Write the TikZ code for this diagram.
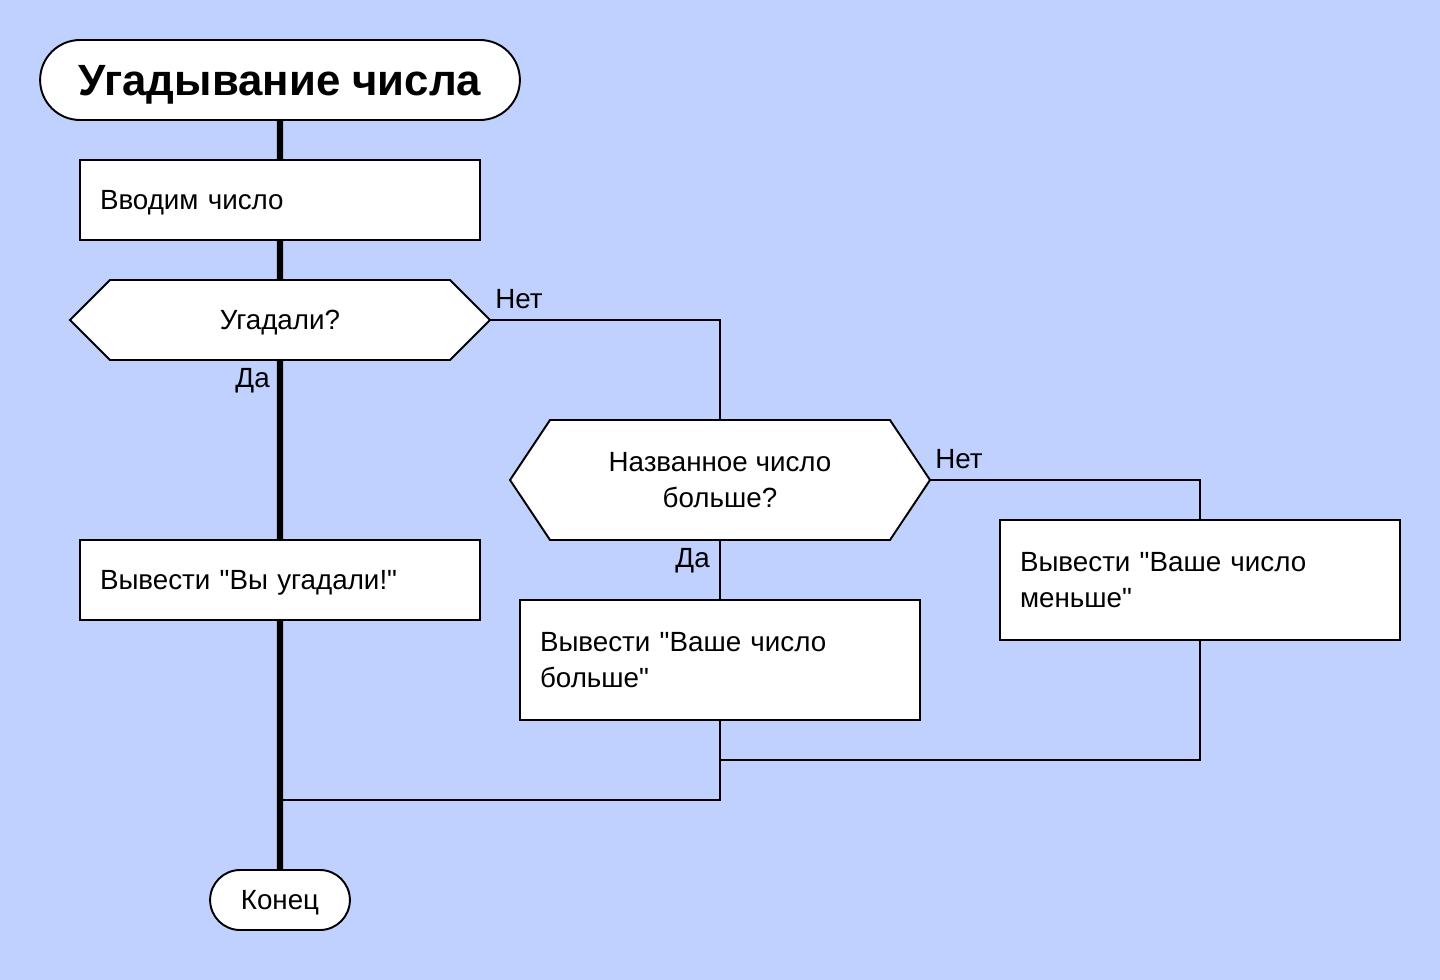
\documentclass[tikz,border=0pt]{standalone}
\usepackage{fontspec}
\setmainfont{Liberation Sans}
\usetikzlibrary{positioning,calc,shapes.misc,shapes.symbols}
\definecolor{bgblue}{HTML}{C0D0FF}

\begin{document}
\begin{tikzpicture}[node distance=0.8cm, line width=1.1pt,
  every node/.style={outer sep=0pt},
  txt/.style={font=\fontsize{15.8}{20.4}\selectfont},
  oneline/.style={text depth=0pt},
  term/.style={draw, fill=white, rounded rectangle, txt, oneline},
  proc/.style={draw, fill=white, rectangle, txt, minimum width=8cm, text width=7.2cm, inner xsep=0.4cm, align=left},
  cond/.style={draw, fill=white, signal, signal to=east and west, txt, align=center, minimum width=8.4cm},
  spine/.style={line width=3.6pt},
  yesno/.style={txt, inner sep=3pt}]

  \fill[bgblue] (0,0) rectangle (28.8,-19.6);
  \useasboundingbox (0,0) rectangle (28.8,-19.6);

  \node[term, font=\fontsize{24.9}{28}\selectfont\bfseries, minimum width=9.83cm, minimum height=1.6cm] (title) at (5.6,-1.6) {Угадывание числа};
  \node[proc, oneline, minimum height=1.6cm, below=of title]              (input)  {Вводим число};
  \node[cond, oneline, minimum height=1.6cm, signal pointer angle=90, below=of input] (guess)  {Угадали?};
  \node[proc, oneline, minimum height=1.6cm, below=3.6cm of guess]        (win)    {Вывести \textquotedbl Вы угадали!\textquotedbl};
  \node[term, minimum width=3.03cm, minimum height=1.2cm, below=5cm of win]  (end)    {Конец};

  \node[cond, minimum height=2.4cm, signal pointer angle=112.6] (bigger) at ($(guess.east)+(4.6,-3.2)$) {Названное число\\больше?};
  \node[proc, minimum height=2.4cm, below=1.2cm of bigger]                (more)   {Вывести \textquotedbl Ваше число\\больше\textquotedbl};
  \node[proc, minimum height=2.4cm, below right=0.8cm and 1.4cm of bigger.east] (less) {Вывести \textquotedbl Ваше число\\меньше\textquotedbl};

  \coordinate (merge) at ($(more.south)+(0,-0.8)$);
  \coordinate (back)  at ($(win.south)+(0,-3.6)$);

  \draw[spine] (title) -- (input);
  \draw[spine] (input) -- (guess);
  \draw[spine] (guess) -- node[pos=0, below left, yesno, xshift=-0.1cm, yshift=-0.06cm] {Да} (win);
  \draw[spine] (win) -- (end);

  \draw (guess.east) -- node[pos=0, above right, yesno, yshift=0.12cm] {Нет} ++(0,0) -| (bigger.north);
  \draw (bigger.east) -- node[pos=0, above right, yesno, yshift=0.12cm] {Нет} ++(0,0) -| (less.north);
  \draw (bigger.south) -- node[pos=0, below left, yesno, xshift=-0.1cm, yshift=-0.06cm] {Да} (more.north);
  \draw (less.south) |- (merge);
  \draw (more.south) |- (back);
\end{tikzpicture}
\end{document}
